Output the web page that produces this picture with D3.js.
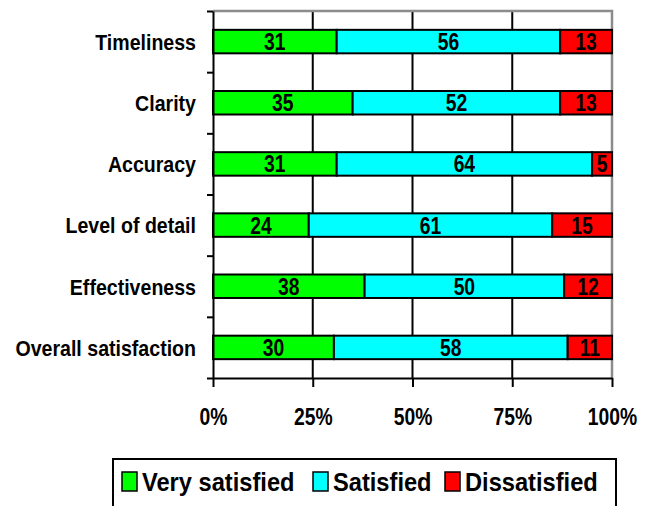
<!DOCTYPE html>
<html>
<head>
<meta charset="utf-8">
<script src="https://cdn.jsdelivr.net/npm/d3@7"></script>
<style>
  html, body { margin: 0; padding: 0; background: #fff; }
  svg { display: block; }
  text { font-family: "Liberation Sans", Arial, sans-serif; font-weight: bold; fill: #000; }
</style>
</head>
<body>
<svg id="chart" width="646" height="506"></svg>
<script>
// Survey ratings per aspect (percent of respondents)
const categories = ["Timeliness", "Clarity", "Accuracy", "Level of detail", "Effectiveness", "Overall satisfaction"];
const seriesNames = ["Very satisfied", "Satisfied", "Dissatisfied"];
const verySatisfied = [31, 35, 31, 24, 38, 30];
const satisfied = [56, 52, 64, 61, 50, 58];
const dissatisfied = [13, 13, 5, 15, 12, 11];
const seriesColors = ["#00ff00", "#00ffff", "#ff0000"];
const xTicks = [0, 0.25, 0.5, 0.75, 1];

const rows = categories.map((c, i) => ({
  category: c,
  "Very satisfied": verySatisfied[i],
  "Satisfied": satisfied[i],
  "Dissatisfied": dissatisfied[i]
}));

const svg = d3.select("#chart");
const plot = { left: 213, right: 612, top: 11, bottom: 378 };

const x = d3.scaleLinear().domain([0, 1]).range([plot.left, plot.right]);
const y = d3.scaleBand().domain(categories).range([plot.top, plot.bottom])
  .paddingInner(0.616).paddingOuter(0.308);
const color = d3.scaleOrdinal().domain(seriesNames).range(seriesColors);

const stacked = d3.stack().keys(seriesNames).offset(d3.stackOffsetExpand)(rows);

// vertical gridlines
svg.append("g").selectAll("line")
  .data(xTicks.filter(t => t > 0 && t < 1))
  .join("line")
  .attr("x1", d => x(d)).attr("x2", d => x(d))
  .attr("y1", plot.top).attr("y2", plot.bottom)
  .attr("stroke", "#000").attr("stroke-width", 2);

// plot area frame (top and right)
svg.append("path")
  .attr("d", `M${plot.left},${plot.top}H${plot.right}V${plot.bottom}`)
  .attr("fill", "none").attr("stroke", "#8c8c8c").attr("stroke-width", 2.5);

// stacked bars
const layer = svg.append("g").selectAll("g")
  .data(stacked).join("g")
  .attr("fill", d => color(d.key));

layer.selectAll("rect")
  .data(d => d.map(p => ({ p, key: d.key })))
  .join("rect")
  .attr("x", d => x(d.p[0]))
  .attr("width", d => x(d.p[1]) - x(d.p[0]))
  .attr("y", d => y(d.p.data.category))
  .attr("height", y.bandwidth())
  .attr("stroke", "#000").attr("stroke-width", 2);

// value labels
layer.selectAll("text")
  .data(d => d.map(p => ({ p, key: d.key })))
  .join("text")
  .attr("text-anchor", "middle")
  .attr("font-size", 23)
  .attr("dy", "0.37em")
  .attr("transform", d => `translate(${(x(d.p[0]) + x(d.p[1])) / 2},${y(d.p.data.category) + y.bandwidth() / 2}) scale(0.84,1)`)
  .text(d => d.p.data[d.key]);

// bottom axis
const xAxis = svg.append("g")
  .attr("transform", `translate(0,${plot.bottom})`)
  .call(d3.axisBottom(x).tickValues(xTicks).tickFormat(d3.format(".0%"))
    .tickSize(9).tickSizeOuter(0));
xAxis.select(".domain").attr("stroke", "#000").attr("stroke-width", 2);
xAxis.selectAll(".tick line").attr("stroke", "#000").attr("stroke-width", 2);
xAxis.selectAll(".tick text")
  .attr("font-size", 23).attr("font-family", null)
  .attr("y", 0).attr("dy", null)
  .attr("transform", `translate(0,47) scale(0.84,1)`);

// left axis: ticks at category boundaries
const yEdge = d3.scaleLinear().domain([0, categories.length]).range([plot.top, plot.bottom]);
const yAxis = svg.append("g")
  .attr("transform", `translate(${plot.left},0)`)
  .call(d3.axisLeft(yEdge).ticks(categories.length).tickSize(6).tickSizeOuter(0).tickFormat(""));
yAxis.select(".domain").attr("stroke", "#000").attr("stroke-width", 2);
yAxis.selectAll(".tick line").attr("stroke", "#000").attr("stroke-width", 2);

// category labels
svg.append("g").selectAll("text")
  .data(categories).join("text")
  .attr("text-anchor", "end")
  .attr("font-size", 22)
  .attr("dy", "0.38em")
  .attr("transform", d => `translate(196,${y(d) + y.bandwidth() / 2}) scale(0.89,1)`)
  .text(d => d);

// legend
const legend = svg.append("g");
legend.append("rect")
  .attr("x", 113).attr("y", 459).attr("width", 503).attr("height", 70)
  .attr("fill", "#fff").attr("stroke", "#000").attr("stroke-width", 2);
const legendX = [122, 313, 445];
const item = legend.selectAll("g.item").data(seriesNames).join("g")
  .attr("class", "item")
  .attr("transform", (d, i) => `translate(${legendX[i]},472)`);
item.append("rect")
  .attr("width", 15).attr("height", 19)
  .attr("fill", d => color(d)).attr("stroke", "#000").attr("stroke-width", 1.5);
item.append("text")
  .attr("font-size", 26)
  .attr("transform", `translate(20,19) scale(0.91,1)`)
  .text(d => d);
</script>
</body>
</html>
